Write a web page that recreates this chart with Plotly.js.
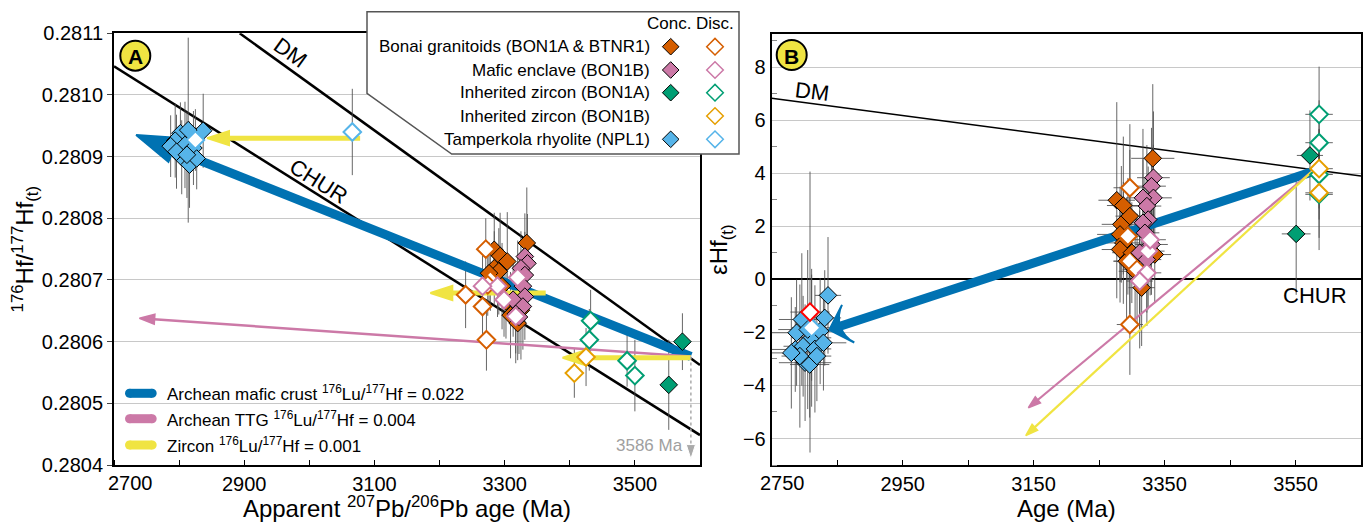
<!DOCTYPE html>
<html><head><meta charset="utf-8">
<script src="https://cdn.plot.ly/plotly-3.0.1.min.js"></script>
<style>html,body{margin:0;padding:0;background:#fff}#chart{width:1368px;height:522px}</style>
</head><body><div id="chart"></div>
<script>
// ================= DATA =================
// Panel A : apparent 207Pb/206Pb age (Ma) vs 176Hf/177Hf(t)
const aNplConcAge = [2837, 2802, 2814, 2794, 2787, 2809, 2822, 2804, 2816, 2827, 2796, 2812];
const aNplConcHf  = [0.280942, 0.280938, 0.280943, 0.280926, 0.280917, 0.280919, 0.280914, 0.280899, 0.280887, 0.280897, 0.280908, 0.280903];
const aNplConcErr = [0.00006, 0.00005, 0.00015, 0.00006, 0.00005, 0.00007, 0.00006, 0.00006, 0.00007, 0.00005, 0.00006, 0.00007];
const aNplDiscAge = [3066, 2825];
const aNplDiscHf  = [0.28094, 0.280927];
const aNplDiscErr = [0.00007, 0.00005];

const aBonConcAge = [3334, 3284, 3293, 3304, 3284, 3291, 3276, 3309, 3320, 3325, 3302, 3296];
const aBonConcHf  = [0.28076, 0.280749, 0.280739, 0.28073, 0.280719, 0.280714, 0.280711, 0.280643, 0.28063, 0.280651, 0.280665, 0.28069];
const aBonConcErr = [0.00009, 0.00006, 0.00007, 0.00008, 0.00006, 0.00007, 0.00005, 0.00007, 0.00006, 0.00008, 0.00006, 0.00007];
const aBonDiscAge = [3271, 3240, 3266, 3272, 3278, 3274];
const aBonDiscHf  = [0.28075, 0.280676, 0.280657, 0.280603, 0.2807, 0.280692];
const aBonDiscErr = [0.00005, 0.000054, 0.00005, 0.00005, 0.00005, 0.00005];

const aMafConcAge = [3331, 3335, 3325, 3331, 3328, 3331, 3313, 3328, 3317, 3322];
const aMafConcHf  = [0.280738, 0.280727, 0.280719, 0.280708, 0.28069, 0.280673, 0.280668, 0.280657, 0.280645, 0.28064];
const aMafConcErr = [0.00007, 0.00008, 0.00006, 0.00007, 0.00006, 0.00007, 0.00006, 0.00007, 0.00008, 0.00006];
const aMafDiscAge = [3320, 3289, 3299, 3317, 3266];
const aMafDiscHf  = [0.280704, 0.28069, 0.280668, 0.280641, 0.28069];
const aMafDiscErr = [0.00006, 0.00005, 0.00006, 0.00006, 0.00005];

const aInhAConcAge = [3573, 3552];
const aInhAConcHf  = [0.2806, 0.28053];
const aInhAConcErr = [0.000046, 0.000073];
const aInhADiscAge = [3432, 3430, 3488, 3500];
const aInhADiscHf  = [0.280634, 0.280603, 0.280569, 0.280545];
const aInhADiscErr = [0.00005, 0.00005, 0.000042, 0.000058];
const aInhBDiscAge = [3425, 3407];
const aInhBDiscHf  = [0.280575, 0.280549];
const aInhBDiscErr = [0.000047, 0.00004];

// model lines panel A
const aDmAge = [2893, 3600],  aDmHf = [0.2811, 0.280562];
const aChurAge = [2700, 3600], aChurHf = [0.2810465, 0.2804485];
// evolution arrows panel A [tailAge, tailHf, tipAge, tipHf]
const aArrowMafic  = [3586, 0.280576, 2734, 0.280935];
const aArrowTTG    = [3586, 0.280576, 2739, 0.280638];
const aArrowZrc1   = [3078, 0.28093, 2843, 0.28093];
const aArrowZrc2   = [3363, 0.280679, 3186, 0.280679];
const aArrowZrc3   = [3586, 0.280574, 3389, 0.280574];
const aModelAge = [3586, 0.280576, 0.28041];
const aTickVals = [2900, 3100, 3300, 3500];
const aFirstTick = '2700';

// Panel B : age (Ma) vs epsilon Hf(t)
const bNplConcAge = [2836, 2831, 2796, 2788, 2811, 2824, 2786, 2798, 2816, 2829, 2801, 2808, 2793, 2780, 2819, 2805];
const bNplConcEps = [-0.60, -1.45, -1.51, -2.01, -2.20, -1.95, -2.64, -2.52, -2.62, -2.39, -3.14, -3.21, -2.89, -2.77, -2.89, -1.89];
const bNplConcEy  = [2.2, 1.8, 2.5, 2.0, 2.6, 2.0, 1.6, 1.9, 2.4, 1.8, 2.2, 2.0, 2.7, 2.1, 1.7, 3.0];
const bNplConcEx  = [20, 25, 35, 40, 30, 30, 45, 30, 25, 35, 40, 30, 28, 35, 22, 45];
const bNplDiscAge = [2811], bNplDiscEps = [-1.82], bNplDiscEy = [2.0], bNplDiscEx = [30];
const bNplRedAge  = [2808.5], bNplRedEps = [-1.23], bNplRedEy = [5.3], bNplRedEx = [30];

const bBonConcAge = [3332, 3277, 3287, 3284, 3297, 3282, 3287, 3282, 3292, 3300, 3305, 3312, 3315, 3335];
const bBonConcEps = [4.57, 2.99, 2.79, 2.08, 2.39, 1.70, 1.38, 1.13, 0.69, 1.01, 0.31, 0.0, -0.31, 0.94];
const bBonConcEy  = [2.8, 3.7, 2.6, 2.2, 2.5, 1.8, 2.3, 2.0, 2.4, 1.9, 2.1, 2.6, 2.2, 1.8];
const bBonConcEx  = [33, 28, 25, 30, 22, 35, 25, 28, 20, 30, 25, 22, 20, 25];
const bBonDiscAge = [3297, 3297, 3294, 3297, 3308];
const bBonDiscEps = [3.46, -1.70, 1.63, 0.69, 0.38];
const bBonDiscEy  = [2.4, 1.9, 2.2, 2.0, 2.1];
const bBonDiscEx  = [25, 20, 25, 25, 22];

const bMafConcAge = [3333, 3330, 3333, 3317, 3323, 3325, 3317, 3320, 3330, 3312, 3323];
const bMafConcEps = [3.84, 3.52, 3.08, 3.08, 2.77, 2.26, 2.14, 1.76, 1.32, 1.01, 0.75];
const bMafConcEy  = [2.5, 2.2, 2.0, 2.6, 2.3, 2.0, 2.4, 2.1, 1.9, 2.3, 2.0];
const bMafConcEx  = [25, 22, 28, 25, 22, 30, 25, 22, 25, 28, 22];
const bMafDiscAge = [3323, 3325, 3312, 3328];
const bMafDiscEps = [0.25, 1.07, -0.06, 1.5];
const bMafDiscEy  = [2.0, 2.2, 1.9, 2.1];
const bMafDiscEx  = [22, 25, 20, 24];

const bInhAConcAge = [3572, 3551], bInhAConcEps = [4.68, 1.72], bInhAConcEy = [1.7, 2.3], bInhAConcEx = [20, 22];
const bInhADiscAge = [3586, 3586, 3586, 3586], bInhADiscEps = [6.23, 5.16, 3.96, 3.21];
const bInhADiscEy  = [1.8, 1.6, 1.7, 2.1], bInhADiscEx = [21, 21, 21, 21];
const bInhBDiscAge = [3586, 3586], bInhBDiscEps = [4.18, 3.27], bInhBDiscEy = [1.5, 1.7], bInhBDiscEx = [21, 21];

const bDmAge = [2750, 3650], bDmEps = [6.84, 3.9];
const bArrowMafic = [3574, 4.05, 2838, -1.9];
const bArrowTTG   = [3574, 4.05, 3142, -4.84];
const bArrowZrc   = [3574, 4.05, 3138, -5.89];
const bTickVals = [2950, 3150, 3350, 3550];
const bFirstTick = '2750';

// legend
const legendNames = ['Bonai granitoids (BON1A & BTNR1)', 'Mafic enclave (BON1B)', 'Inherited zircon (BON1A)', 'Inherited zircon (BON1B)', 'Tamperkola rhyolite (NPL1)'];
const legendHasConc = [true, true, true, false, true];
const modelNames = ['Archean mafic crust <sup>176</sup>Lu/<sup>177</sup>Hf = 0.022', 'Archean TTG <sup>176</sup>Lu/<sup>177</sup>Hf = 0.004', 'Zircon <sup>176</sup>Lu/<sup>177</sup>Hf = 0.001'];

// ================= STYLE =================
const C = {bon:'#D55E00', maf:'#CC79A7', inhA:'#009E73', inhB:'#E69F00', npl:'#56B4E9', blue:'#0072B2', yel:'#F0E442'};
const legendColors = [C.bon, C.maf, C.inhA, C.inhB, C.npl];
const modelColors = [C.blue, C.maf, C.yel];
const FONT = 'Liberation Sans, Arial, sans-serif';
const W = 1368, H = 522;
const px = v => v / W, py = v => 1 - v / H;
const ERRC = 'rgba(75,75,75,0.85)';
const MS = 13.5;

const traces = [];
function lineTrace(x, y, xa, ya, color, width) {
  traces.push({type:'scatter', mode:'lines', x, y, xaxis:xa, yaxis:ya, line:{color, width}, hoverinfo:'skip', showlegend:false});
}
function errTrace(x, y, ey, ex, xa, ya) {
  const t = {type:'scatter', mode:'markers', x, y, xaxis:xa, yaxis:ya, marker:{size:1, opacity:0},
    error_y:{type:'data', array:ey, visible:true, color:ERRC, thickness:1, width:0}, hoverinfo:'skip', showlegend:false};
  if (ex) t.error_x = {type:'data', array:ex, visible:true, color:ERRC, thickness:1, width:0};
  traces.push(t);
}
function mkTrace(x, y, xa, ya, color, hollow, lineColor) {
  traces.push({type:'scatter', mode:'markers', x, y, xaxis:xa, yaxis:ya, hoverinfo:'skip', showlegend:false,
    marker:{symbol:'diamond', size:MS, opacity:1, color: hollow ? '#ffffff' : color,
      line:{color: lineColor || (hollow ? color : '#000000'), width: hollow ? 2 : 1}}});
}
function arrowTrace(a, xa, ya, color, width, sym, size, lw) {
  traces.push({type:'scatter', mode:'lines+markers', x:[a[0], a[2]], y:[a[1], a[3]], xaxis:xa, yaxis:ya,
    line:{color, width}, hoverinfo:'skip', showlegend:false,
    marker:{symbol:sym, size:[0, size], opacity:1, angleref:'previous', color, line:{color, width:lw}}});
}

// ---- Panel A
lineTrace(aDmAge, aDmHf, 'x', 'y', '#000', 2.5);
lineTrace(aChurAge, aChurHf, 'x', 'y', '#000', 2.5);
errTrace(aNplConcAge, aNplConcHf, aNplConcErr, null, 'x', 'y');
errTrace(aNplDiscAge, aNplDiscHf, aNplDiscErr, null, 'x', 'y');
errTrace(aBonConcAge, aBonConcHf, aBonConcErr, null, 'x', 'y');
errTrace(aBonDiscAge, aBonDiscHf, aBonDiscErr, null, 'x', 'y');
errTrace(aMafConcAge, aMafConcHf, aMafConcErr, null, 'x', 'y');
errTrace(aMafDiscAge, aMafDiscHf, aMafDiscErr, null, 'x', 'y');
errTrace(aInhAConcAge, aInhAConcHf, aInhAConcErr, null, 'x', 'y');
errTrace(aInhADiscAge, aInhADiscHf, aInhADiscErr, null, 'x', 'y');
errTrace(aInhBDiscAge, aInhBDiscHf, aInhBDiscErr, null, 'x', 'y');
arrowTrace(aArrowMafic, 'x', 'y', C.blue, 9, 'arrow', 42, 2);
arrowTrace(aArrowTTG, 'x', 'y', C.maf, 2.5, 'arrow', 16, 1.5);
arrowTrace(aArrowZrc1, 'x', 'y', C.yel, 5, 'arrow', 23, 2);
arrowTrace(aArrowZrc2, 'x', 'y', C.yel, 5, 'arrow', 23, 2);
arrowTrace(aArrowZrc3, 'x', 'y', C.yel, 5, 'arrow', 23, 2);
traces.push({type:'scatter', mode:'lines+markers', x:[aModelAge[0], aModelAge[0]], y:[aModelAge[1], aModelAge[2]],
  xaxis:'x', yaxis:'y', line:{color:'#aaaaaa', width:1.5, dash:'dot'}, hoverinfo:'skip', showlegend:false,
  marker:{symbol:'arrow', size:[0, 15], opacity:1, angleref:'previous', color:'#aaaaaa'}});
mkTrace(aInhADiscAge, aInhADiscHf, 'x', 'y', C.inhA, true);
mkTrace(aInhBDiscAge, aInhBDiscHf, 'x', 'y', C.inhB, true);
mkTrace(aInhAConcAge, aInhAConcHf, 'x', 'y', C.inhA, false);
mkTrace(aBonConcAge, aBonConcHf, 'x', 'y', C.bon, false);
mkTrace(aBonDiscAge, aBonDiscHf, 'x', 'y', C.bon, true);
mkTrace(aMafConcAge, aMafConcHf, 'x', 'y', C.maf, false);
mkTrace(aMafDiscAge, aMafDiscHf, 'x', 'y', C.maf, true);
mkTrace(aNplConcAge, aNplConcHf, 'x', 'y', C.npl, false);
mkTrace(aNplDiscAge, aNplDiscHf, 'x', 'y', C.npl, true);

// ---- Panel B
lineTrace(bDmAge, bDmEps, 'x2', 'y2', '#000', 1.5);
errTrace(bNplConcAge, bNplConcEps, bNplConcEy, bNplConcEx, 'x2', 'y2');
errTrace(bNplDiscAge, bNplDiscEps, bNplDiscEy, bNplDiscEx, 'x2', 'y2');
errTrace(bNplRedAge, bNplRedEps, bNplRedEy, bNplRedEx, 'x2', 'y2');
errTrace(bBonConcAge, bBonConcEps, bBonConcEy, bBonConcEx, 'x2', 'y2');
errTrace(bBonDiscAge, bBonDiscEps, bBonDiscEy, bBonDiscEx, 'x2', 'y2');
errTrace(bMafConcAge, bMafConcEps, bMafConcEy, bMafConcEx, 'x2', 'y2');
errTrace(bMafDiscAge, bMafDiscEps, bMafDiscEy, bMafDiscEx, 'x2', 'y2');
errTrace(bInhAConcAge, bInhAConcEps, bInhAConcEy, bInhAConcEx, 'x2', 'y2');
errTrace(bInhADiscAge, bInhADiscEps, bInhADiscEy, bInhADiscEx, 'x2', 'y2');
errTrace(bInhBDiscAge, bInhBDiscEps, bInhBDiscEy, bInhBDiscEx, 'x2', 'y2');
arrowTrace(bArrowMafic, 'x2', 'y2', C.blue, 9, 'arrow-wide', 28, 2);
arrowTrace(bArrowTTG, 'x2', 'y2', C.maf, 2.2, 'arrow', 13, 1.5);
arrowTrace(bArrowZrc, 'x2', 'y2', C.yel, 2.2, 'arrow', 13, 1.5);
mkTrace(bBonConcAge, bBonConcEps, 'x2', 'y2', C.bon, false);
mkTrace(bBonDiscAge, bBonDiscEps, 'x2', 'y2', C.bon, true);
mkTrace(bMafConcAge, bMafConcEps, 'x2', 'y2', C.maf, false);
mkTrace(bMafDiscAge, bMafDiscEps, 'x2', 'y2', C.maf, true);
mkTrace(bInhAConcAge, bInhAConcEps, 'x2', 'y2', C.inhA, false);
mkTrace(bInhADiscAge, bInhADiscEps, 'x2', 'y2', C.inhA, true);
mkTrace(bInhBDiscAge, bInhBDiscEps, 'x2', 'y2', C.inhB, true);
mkTrace(bNplConcAge, bNplConcEps, 'x2', 'y2', C.npl, false);
mkTrace(bNplDiscAge, bNplDiscEps, 'x2', 'y2', C.npl, true);
mkTrace(bNplRedAge, bNplRedEps, 'x2', 'y2', C.npl, true, '#ff0000');

// ================= LAYOUT =================
const shapes = [];
const annotations = [];
function ann(x, y, text, opts) {
  annotations.push(Object.assign({xref:'paper', yref:'paper', x:px(x), y:py(y), text, showarrow:false,
    font:{family:FONT, size:17, color:'#000'}, xanchor:'center', yanchor:'middle'}, opts || {}));
}
function pathOf(pts) { return 'M' + pts.map(p => px(p[0]) + ',' + py(p[1])).join('L') + 'Z'; }
function diamond(cx, cy, r, fill, stroke, w) {
  shapes.push({type:'path', xref:'paper', yref:'paper', layer:'above', path:pathOf([[cx - r, cy], [cx, cy - r], [cx + r, cy], [cx, cy + r]]),
    fillcolor:fill, line:{color:stroke, width:w}});
}
function circle(cx, cy, r, fill, stroke, w) {
  shapes.push({type:'circle', xref:'paper', yref:'paper', layer:'above', x0:px(cx - r), x1:px(cx + r), y0:py(cy + r), y1:py(cy - r),
    fillcolor:fill, line:{color:stroke, width:w}});
}

// legend box (top middle)
shapes.push({type:'path', xref:'paper', yref:'paper', layer:'above',
  path:pathOf([[367, 11.7], [739, 11.7], [739, 154], [451.7, 154], [367, 93.3]]), fillcolor:'#ffffff', line:{color:'#555555', width:1.5}});
const rowY = [46.7, 70, 92.7, 116, 139.3];
ann(669, 24, 'Conc.');
ann(715, 24, 'Disc.');
legendNames.forEach((n, i) => {
  ann(652, rowY[i], n, {xanchor:'right'});
  if (legendHasConc[i]) diamond(670.7, rowY[i], 8.3, legendColors[i], '#000', 1);
  diamond(715, rowY[i], 8.3, '#ffffff', legendColors[i], 1.5);
});
// model legend (bottom-left of panel A)
const modelY = [393.3, 418.7, 445];
modelNames.forEach((n, i) => {
  shapes.push({type:'line', xref:'paper', yref:'paper', layer:'above', x0:px(129.5), x1:px(152.2), y0:py(modelY[i]), y1:py(modelY[i]),
    line:{color:modelColors[i], width:9}});
  circle(129.5, modelY[i], 4.5, modelColors[i], modelColors[i], 0);
  circle(152.2, modelY[i], 4.5, modelColors[i], modelColors[i], 0);
  ann(165, modelY[i], n, {xanchor:'left'});
});
// panel letters
circle(135.3, 55.7, 15, C.yel, '#000', 2);
circle(791.7, 55, 15, C.yel, '#000', 2);
ann(135.3, 56.5, '<b>A</b>', {font:{family:FONT, size:21, color:'#000'}});
ann(791.7, 56, '<b>B</b>', {font:{family:FONT, size:21, color:'#000'}});
// line labels
ann(290, 53, 'DM', {textangle:35.8, font:{family:FONT, size:22, color:'#000'}});
ann(319, 181, 'CHUR', {textangle:32.2, font:{family:FONT, size:22, color:'#000'}});
ann(812, 92, 'DM', {textangle:7, font:{family:FONT, size:22, color:'#000'}});
ann(1315, 295, 'CHUR', {font:{family:FONT, size:22, color:'#000'}});
ann(649, 445, '3586 Ma', {font:{family:FONT, size:17, color:'#a0a0a0'}});
// first x tick labels (offset to the right of the axis corner, as in the reference)
ann(130, 483, aFirstTick, {font:{family:FONT, size:20, color:'#000'}});
ann(782, 483, bFirstTick, {font:{family:FONT, size:20, color:'#000'}});

const axBase = {showline:true, linecolor:'#000', linewidth:2, mirror:true, automargin:false,
  tickfont:{family:FONT, size:20, color:'#000'}, zeroline:false, fixedrange:true};

const layout = {
  width:W, height:H, margin:{l:0, r:0, t:0, b:0}, paper_bgcolor:'#fff', plot_bgcolor:'rgba(0,0,0,0)',
  showlegend:false, font:{family:FONT, color:'#000'},
  xaxis: Object.assign({}, axBase, {domain:[px(114), px(700)], range:[2700, 3600], tickmode:'array', tickvals:aTickVals, ticks:'', showgrid:false,
    minor:{tickmode:'linear', tick0:2700, dtick:100, ticks:'inside', ticklen:5, tickcolor:'#000', showgrid:false},
    title:{text:'Apparent <sup>207</sup>Pb/<sup>206</sup>Pb age (Ma)', font:{family:FONT, size:24}, standoff:10}, anchor:'y'}),
  yaxis: Object.assign({}, axBase, {domain:[py(465), py(33.3)], range:[0.2804, 0.2811], tick0:0.2804, dtick:0.0001, tickformat:'.4f',
    ticks:'outside', ticklen:5, showgrid:true, gridcolor:'#c8c8c8', gridwidth:1,
    title:{text:'<sup>176</sup>Hf/<sup>177</sup>Hf<sub>(t)</sub>', font:{family:FONT, size:24}, standoff:0}, anchor:'x'}),
  xaxis2: Object.assign({}, axBase, {domain:[px(771.7), px(1361)], range:[2750, 3650], tickmode:'array', tickvals:bTickVals, ticks:'', showgrid:false,
    minor:{tickmode:'linear', tick0:2750, dtick:100, ticks:'inside', ticklen:5, tickcolor:'#000', showgrid:false},
    title:{text:'Age (Ma)', font:{family:FONT, size:24}, standoff:8}, anchor:'y2'}),
  yaxis2: Object.assign({}, axBase, {domain:[py(465), py(34.3)], range:[-7, 9.25], tick0:0, dtick:2, ticks:'', showgrid:true,
    gridcolor:'#c8c8c8', gridwidth:1, zeroline:true, zerolinecolor:'#000', zerolinewidth:2,
    minor:{dtick:1, ticks:'inside', ticklen:5, tickcolor:'#888', showgrid:false},
    title:{text:'εHf<sub>(t)</sub>', font:{family:FONT, size:24}, standoff:8}, anchor:'x2'}),
  shapes, annotations
};

Plotly.newPlot('chart', traces, layout, {displayModeBar:false, staticPlot:true});
</script>
</body></html>
